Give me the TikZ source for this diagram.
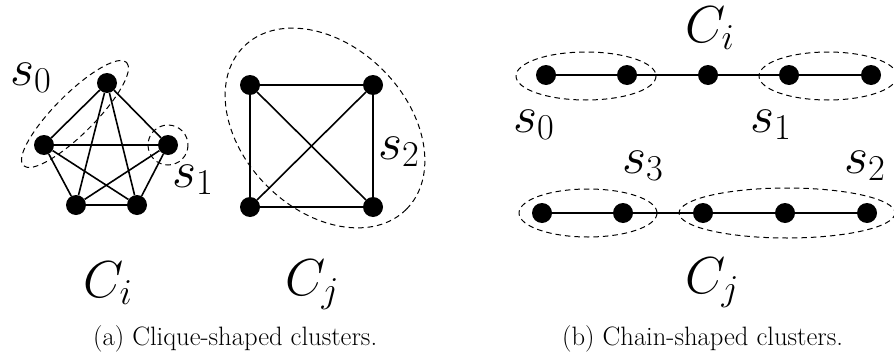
\RequirePackage{fix-cm}
\documentclass[tikz,border=0pt]{standalone}
\usepackage{tikz}

\begin{document}
\begin{tikzpicture}[
  x=1pt, y=-1pt,
  vert/.style={circle, fill=black, inner sep=0pt, minimum size=20pt},
  edge/.style={line width=1.6pt},
  grp/.style={line width=1pt, dash pattern=on 5.5pt off 4pt},
  lbl/.style={anchor=base west, inner sep=0pt, font=\fontsize{52}{60}\selectfont},
  subcap/.style={anchor=base west, inner sep=0pt, font=\fontsize{26.6}{31}\selectfont}
]
\useasboundingbox (0,0) rectangle (894,356);

% (a) clique-shaped clusters
\node[vert] (a1) at (107,83) {};
\node[vert] (a2) at (44,145) {};
\node[vert] (a3) at (168,145) {};
\node[vert] (a4) at (76,205) {};
\node[vert] (a5) at (137,205) {};
\foreach \u/\v in {a1/a2, a1/a3, a1/a4, a1/a5, a2/a3, a2/a4, a2/a5, a3/a4, a3/a5, a4/a5}
  \draw[edge] (\u) -- (\v);

\node[vert] (q1) at (250,85) {};
\node[vert] (q2) at (373,85) {};
\node[vert] (q3) at (250,207) {};
\node[vert] (q4) at (373,207) {};
\foreach \u/\v in {q1/q2, q1/q3, q2/q4, q3/q4, q1/q4, q2/q3}
  \draw[edge] (\u) -- (\v);

\draw[grp, rotate around={45:(75,114)}] (75,114) ellipse [x radius=73, y radius=20];
\draw[grp] (168,145) circle [radius=20];
\draw[grp, rotate around={-45:(325,128)}] (325,128) ellipse [x radius=115, y radius=82];

\node[lbl] (sa0) at (10,85) {$s_0$};
\node[lbl] (sa1) at (172,187) {$s_1$};
\node[lbl] (sa2) at (378,159) {$s_2$};
\node[lbl] (cai) at (83,297) {$C_i$};
\node[lbl] (caj) at (285,295) {$C_j$};

% (b) chain-shaped clusters
\foreach \x [count=\i] in {546,627,708,789,871}
  \node[vert] (b\i) at (\x,75) {};
\draw[edge] (b1) -- (b2) -- (b3) -- (b4) -- (b5);

\foreach \x [count=\i] in {542,623,703,785,867}
  \node[vert] (c\i) at (\x,213) {};
\draw[edge] (c1) -- (c2) -- (c3) -- (c4) -- (c5);

\draw[grp] (586,76) ellipse [x radius=70, y radius=24];
\draw[grp] (828,76) ellipse [x radius=69, y radius=24];
\draw[grp] (588,213) ellipse [x radius=69, y radius=24];
\draw[grp] (787,213) ellipse [x radius=108, y radius=25];

\node[lbl] (cbi) at (685,42) {$C_i$};
\node[lbl] (sb0) at (513,132) {$s_0$};
\node[lbl] (sb1) at (750,132) {$s_1$};
\node[lbl] (sb3) at (622,173) {$s_3$};
\node[lbl] (sb2) at (844,173) {$s_2$};
\node[lbl] (cbj) at (685,293) {$C_j$};

% captions
\node[subcap] (capa) at (93,345) {(a) Clique-shaped clusters.};
\node[subcap] (capb) at (562,345) {(b) Chain-shaped clusters.};
\end{tikzpicture}
\end{document}
